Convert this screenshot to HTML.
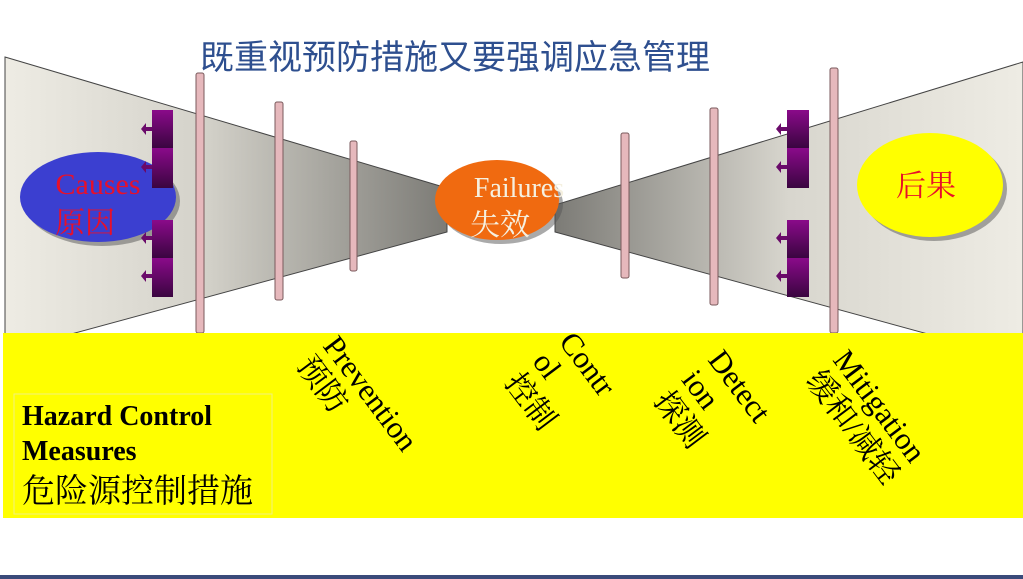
<!DOCTYPE html>
<html><head><meta charset="utf-8"><style>
html,body{margin:0;padding:0;background:#fff;}
svg{display:block;}
</style></head><body>
<svg width="1023" height="579" viewBox="0 0 1023 579" xmlns="http://www.w3.org/2000/svg">
<defs>
<linearGradient id="gl" x1="0" x2="1" y1="0" y2="0">
<stop offset="0" stop-color="#eeece4"/><stop offset="0.45" stop-color="#d4d2ca"/><stop offset="1" stop-color="#7c7b76"/>
</linearGradient>
<linearGradient id="gr" x1="1" x2="0" y1="0" y2="0">
<stop offset="0" stop-color="#eeece4"/><stop offset="0.5" stop-color="#d8d6ce"/><stop offset="1" stop-color="#7c7b76"/>
</linearGradient>
<linearGradient id="pb" x1="0" x2="0" y1="0" y2="1">
<stop offset="0" stop-color="#8a0a8a"/><stop offset="1" stop-color="#3a0540"/>
</linearGradient>
</defs>
<rect x="0" y="0" width="1023" height="579" fill="#fff"/>
<polygon points="5,57 447,188 447,232 5,352" fill="url(#gl)" stroke="#444" stroke-width="1"/>
<polygon points="1023,62 555,205 555,232 1023,360" fill="url(#gr)" stroke="#444" stroke-width="1"/>
<text x="200" y="69" font-family="'Liberation Sans','Noto Sans CJK SC',sans-serif" font-size="34" fill="#2e4f8f">既重视预防措施又要强调应急管理</text>
<ellipse cx="102" cy="201" rx="78" ry="45" fill="#555" opacity="0.5"/>
<ellipse cx="98" cy="197" rx="78" ry="45" fill="#3b3fd0"/>
<text x="98" y="194" text-anchor="middle" font-family="'Liberation Serif',serif" font-size="30" fill="#e8102a">Causes</text>
<text x="85" y="233" text-anchor="middle" font-family="'Liberation Serif','Noto Serif CJK SC',serif" font-size="30" fill="#e8102a">原因</text>
<ellipse cx="501" cy="204" rx="62" ry="40" fill="#555" opacity="0.5"/>
<ellipse cx="497" cy="200" rx="62" ry="40" fill="#f06a10"/>
<text x="519" y="197" text-anchor="middle" font-family="'Liberation Serif',serif" font-size="28" fill="#f5f0e0">Failures</text>
<text x="500" y="235" text-anchor="middle" font-family="'Liberation Serif','Noto Serif CJK SC',serif" font-size="30" fill="#f5f0e0">失效</text>
<ellipse cx="934" cy="189" rx="73" ry="52" fill="#555" opacity="0.5"/>
<ellipse cx="930" cy="185" rx="73" ry="52" fill="#ffff00"/>
<text x="926" y="196" text-anchor="middle" font-family="'Liberation Serif','Noto Serif CJK SC',serif" font-size="30" fill="#e8102a">后果</text>
<g fill="url(#pb)">
<rect x="152" y="110" width="21" height="38"/><rect x="152" y="148" width="21" height="40"/>
<rect x="152" y="220" width="21" height="38"/><rect x="152" y="258" width="21" height="39"/>
<rect x="787" y="110" width="22" height="38"/><rect x="787" y="148" width="22" height="40"/>
<rect x="787" y="220" width="22" height="38"/><rect x="787" y="258" width="22" height="39"/>
</g>
<g fill="#6a0a6a">
<path d="M152,127 l-6,0 0,-4 -5,6 5,6 0,-4 6,0z"/><path d="M152,165 l-6,0 0,-4 -5,6 5,6 0,-4 6,0z"/>
<path d="M152,236 l-6,0 0,-4 -5,6 5,6 0,-4 6,0z"/><path d="M152,274 l-6,0 0,-4 -5,6 5,6 0,-4 6,0z"/>
<path d="M787,127 l-6,0 0,-4 -5,6 5,6 0,-4 6,0z"/><path d="M787,165 l-6,0 0,-4 -5,6 5,6 0,-4 6,0z"/>
<path d="M787,236 l-6,0 0,-4 -5,6 5,6 0,-4 6,0z"/><path d="M787,274 l-6,0 0,-4 -5,6 5,6 0,-4 6,0z"/>
</g>
<g fill="#e6b8bc" stroke="#7a5a5c" stroke-width="1">
<rect x="196" y="73" width="8" height="260" rx="2"/>
<rect x="275" y="102" width="8" height="198" rx="2"/>
<rect x="350" y="141" width="7" height="130" rx="2"/>
<rect x="621" y="133" width="8" height="145" rx="2"/>
<rect x="710" y="108" width="8" height="197" rx="2"/>
<rect x="830" y="68" width="8" height="265" rx="2"/>
</g>
<rect x="3" y="333" width="1020" height="185" fill="#ffff00"/>
<rect x="14" y="394" width="258" height="120" fill="none" stroke="#f0f080" stroke-width="1"/>
<text x="22" y="425" font-family="'Liberation Serif',serif" font-weight="bold" font-size="28" fill="#000">Hazard Control</text>
<text x="22" y="460" font-family="'Liberation Serif',serif" font-weight="bold" font-size="28" fill="#000">Measures</text>
<text x="22" y="502" font-family="'Liberation Serif','Noto Serif CJK SC',serif" font-size="33" fill="#000">危险源控制措施</text>
<g font-family="'Liberation Serif','Noto Serif CJK SC',serif" font-size="31" fill="#000">
<g transform="translate(322,346) rotate(53)"><text x="0" y="0">Prevention</text><text x="0" y="33">预防</text></g>
<g transform="translate(558,342) rotate(53)"><text x="0" y="0">Contr</text><text x="0" y="33">ol</text><text x="0" y="68">控制</text></g>
<g transform="translate(707,360) rotate(53)"><text x="0" y="0">Detect</text><text x="0" y="33">ion</text><text x="0" y="68">探测</text></g>
<g transform="translate(832,360) rotate(53)"><text x="0" y="0">Mitigation</text><text x="0" y="34">缓和/减轻</text></g>
</g>
<rect x="0" y="575" width="1023" height="4" fill="#3a4a7a"/>
</svg>
</body></html>
